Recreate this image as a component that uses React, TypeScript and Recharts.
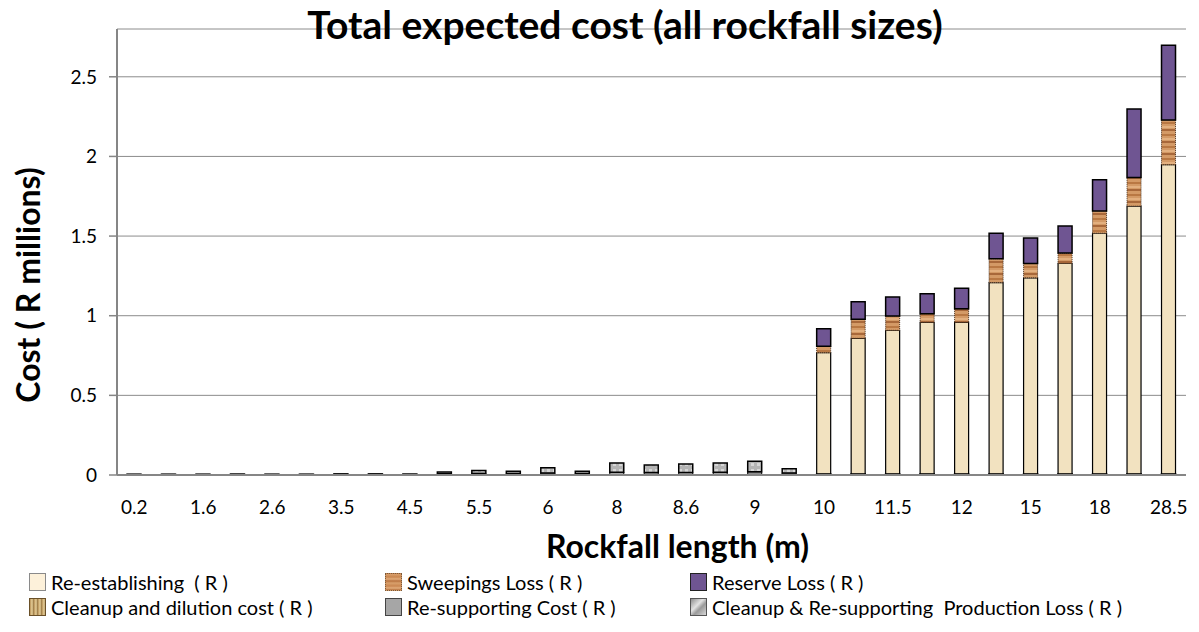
import { BarChart, Bar, XAxis, YAxis, CartesianGrid, Label } from "recharts"

const categories = [
  "0.2", "1", "1.6", "2", "2.6", "3", "3.5", "4", "4.5", "5", "5.5",
  "5.8", "6", "7", "8", "8.3", "8.6", "8.8", "9", "9.5", "10", "11",
  "11.5", "11.8", "12", "13", "15", "16", "18", "20", "28.5",
]

const cleanupDilution = [
  0.001, 0.001, 0.001, 0.001, 0.001, 0.001, 0.001, 0.001, 0.001, 0.002, 0.002,
  0.002, 0.002, 0.002, 0.003, 0.003, 0.003, 0.003, 0.004, 0.002, 0.002, 0.002,
  0.002, 0.002, 0.002, 0.002, 0.002, 0.002, 0.002, 0.002, 0.002,
]
const resupportingCost = [
  0.003, 0.003, 0.003, 0.003, 0.003, 0.003, 0.004, 0.004, 0.003, 0.006, 0.008,
  0.007, 0.01, 0.007, 0.015, 0.012, 0.013, 0.015, 0.016, 0.01, 0.004, 0.004,
  0.004, 0.004, 0.004, 0.004, 0.004, 0.004, 0.004, 0.004, 0.004,
]
const productionLoss = [
  0.001, 0.001, 0.001, 0.002, 0.001, 0.001, 0.002, 0.002, 0.002, 0.011, 0.018,
  0.014, 0.034, 0.014, 0.058, 0.048, 0.053, 0.058, 0.066, 0.028, 0.002, 0.002,
  0.002, 0.002, 0.002, 0.002, 0.002, 0.002, 0.002, 0.002, 0.002,
]
const reEstablishing = [
  0, 0, 0, 0, 0, 0, 0, 0, 0, 0, 0,
  0, 0, 0, 0, 0, 0, 0, 0, 0, 0.76, 0.85,
  0.9, 0.95, 0.95, 1.2, 1.23, 1.32, 1.51, 1.68, 1.94,
]
const sweepingsLoss = [
  0, 0, 0, 0, 0, 0, 0, 0, 0, 0, 0,
  0, 0, 0, 0, 0, 0, 0, 0, 0, 0.04, 0.12,
  0.09, 0.055, 0.085, 0.15, 0.09, 0.065, 0.14, 0.18, 0.28,
]
const reserveLoss = [
  0, 0, 0, 0, 0, 0, 0, 0, 0, 0, 0,
  0, 0, 0, 0, 0, 0, 0, 0, 0, 0.11, 0.11,
  0.12, 0.125, 0.13, 0.16, 0.16, 0.17, 0.195, 0.43, 0.47,
]

const yTicks = [0, 0.5, 1, 1.5, 2, 2.5]
const gridTicks = Array.from({ length: 32 }, (_, i) => i)

const data = categories.map((name, i) => ({
  name,
  cleanup: cleanupDilution[i],
  resupport: resupportingCost[i],
  production: productionLoss[i],
  reestablish: reEstablishing[i],
  sweepings: sweepingsLoss[i],
  reserve: reserveLoss[i],
}))

const font = "Lato, 'DejaVu Sans', sans-serif"

const legendItems = [
  { label: "Re-establishing  ( R )", swatch: { background: "#fdf1da", border: "1px solid #8a8a8a" }, left: 29, top: 570 },
  { label: "Sweepings Loss ( R )", swatch: { background: "repeating-linear-gradient(180deg,#d9a06c 0px,#c98650 3px,#e2ad7c 5px,#b8723f 7px,#d9a06c 9px)", border: "1px dotted #7a5a3a" }, left: 385, top: 570 },
  { label: "Reserve Loss ( R )", swatch: { background: "#6f5592", border: "1px solid #222" }, left: 690, top: 570 },
  { label: "Cleanup and dilution cost ( R )", swatch: { background: "repeating-linear-gradient(90deg,#b89257 0px,#e6cf9a 2px,#8d6a35 4px), #c4a46a", border: "1px solid #6a5028" }, left: 29, top: 595 },
  { label: "Re-supporting Cost ( R )", swatch: { background: "#a6a6a6", border: "1px solid #444" }, left: 385, top: 595 },
  { label: "Cleanup & Re-supporting  Production Loss ( R )", swatch: { background: "linear-gradient(135deg,#8e8e8e,#e2e2e2 40%,#9a9a9a 60%,#d8d8d8)", border: "1px solid #555" }, left: 690, top: 595 },
]

function YTitle(props: any) {
  const { viewBox } = props
  const cx = 27
  const cy = viewBox.y + viewBox.height / 2 + 33
  return (
    <text
      x={cx}
      y={cy}
      transform={`rotate(-90 ${cx} ${cy})`}
      textAnchor="middle"
      dominantBaseline="central"
      fontFamily={font}
      fontWeight={700}
      fontSize={32}
      fill="#000"
    >
      Cost ( R millions)
    </text>
  )
}

function XTitle(props: any) {
  const { viewBox } = props
  return (
    <text
      x={viewBox.x + viewBox.width / 2 + 26}
      y={545}
      textAnchor="middle"
      dominantBaseline="central"
      fontFamily={font}
      fontWeight={700}
      fontSize={32}
      fill="#000"
    >
      Rockfall length (m)
    </text>
  )
}

export default function App() {
  return (
    <div style={{ position: "absolute", left: 0, top: 0, width: 1199, height: 632, background: "#fff", fontFamily: font }}>
      <BarChart
        width={1199}
        height={632}
        data={data}
        margin={{ top: 29, right: 13, left: 0, bottom: 77 }}
        barSize={14}
      >
        <defs>
          <pattern id="sweepPat" width="8" height="12" patternUnits="userSpaceOnUse">
            <rect width="8" height="12" fill="#d49a66" />
            <rect y="2" width="8" height="2" fill="#b97843" />
            <rect y="6" width="8" height="2" fill="#e3b07f" />
            <rect y="9" width="8" height="2" fill="#a8683a" />
          </pattern>
          <pattern id="prodPat" width="6" height="6" patternUnits="userSpaceOnUse">
            <rect width="6" height="6" fill="#b4b4b4" />
            <rect x="1" y="1" width="3" height="3" fill="#d6d6d6" />
          </pattern>
          <pattern id="cleanPat" width="4" height="4" patternUnits="userSpaceOnUse">
            <rect width="4" height="4" fill="#c4a46a" />
            <rect width="2" height="2" fill="#8d6a35" />
          </pattern>
        </defs>

        <CartesianGrid vertical={false} stroke="#8c8c8c" strokeWidth={1} />

        <XAxis
          dataKey="name"
          interval={1}
          tickLine={false}
          tickMargin={20}
          height={80}
          axisLine={{ stroke: "#868686", strokeWidth: 2 }}
          tick={{ fill: "#000", fontSize: 19, fontFamily: font }}
        >
          <Label content={<XTitle />} />
        </XAxis>

        <XAxis
          xAxisId="grid"
          type="number"
          domain={[0, 31]}
          ticks={gridTicks}
          tick={false}
          tickSize={7}
          height={0}
          axisLine={false}
          tickLine={{ stroke: "#868686", strokeWidth: 1.5 }}
        />

        <YAxis
          width={117}
          domain={[0, 2.8]}
          ticks={yTicks}
          tickSize={8}
          tickMargin={12}
          axisLine={{ stroke: "#868686", strokeWidth: 2 }}
          tickLine={{ stroke: "#868686", strokeWidth: 1.5 }}
          tick={{ fill: "#000", fontSize: 19, fontFamily: font }}
        >
          <Label content={<YTitle />} />
        </YAxis>

        <Bar dataKey="cleanup" stackId="a" fill="url(#cleanPat)" stroke="#000" strokeWidth={1} isAnimationActive={false} />
        <Bar dataKey="resupport" stackId="a" fill="#a6a6a6" stroke="#000" strokeWidth={1} isAnimationActive={false} />
        <Bar dataKey="production" stackId="a" fill="url(#prodPat)" stroke="#000" strokeWidth={1.5} isAnimationActive={false} />
        <Bar dataKey="reestablish" stackId="a" fill="#f2e2c0" stroke="#000" strokeWidth={1.2} isAnimationActive={false} />
        <Bar dataKey="sweepings" stackId="a" fill="url(#sweepPat)" stroke="#4a3320" strokeWidth={1} strokeDasharray="1 1" isAnimationActive={false} />
        <Bar dataKey="reserve" stackId="a" fill="#6f5592" stroke="#000" strokeWidth={1.5} isAnimationActive={false} />
      </BarChart>

      <div style={{ position: "absolute", left: 0, width: 1250, top: 0, textAlign: "center", fontSize: 39, fontWeight: 700, lineHeight: "48px", background: "transparent" }}>
        Total expected cost (all rockfall sizes)
      </div>

      {legendItems.map((item) => (
        <div
          key={item.label}
          style={{ position: "absolute", left: item.left, top: item.top, display: "flex", alignItems: "center", fontSize: 20, whiteSpace: "pre", color: "#000" }}
        >
          <span style={{ display: "inline-block", width: 17, height: 18, boxSizing: "border-box", marginRight: 5, ...item.swatch }} />
          {item.label}
        </div>
      ))}
    </div>
  )
}
